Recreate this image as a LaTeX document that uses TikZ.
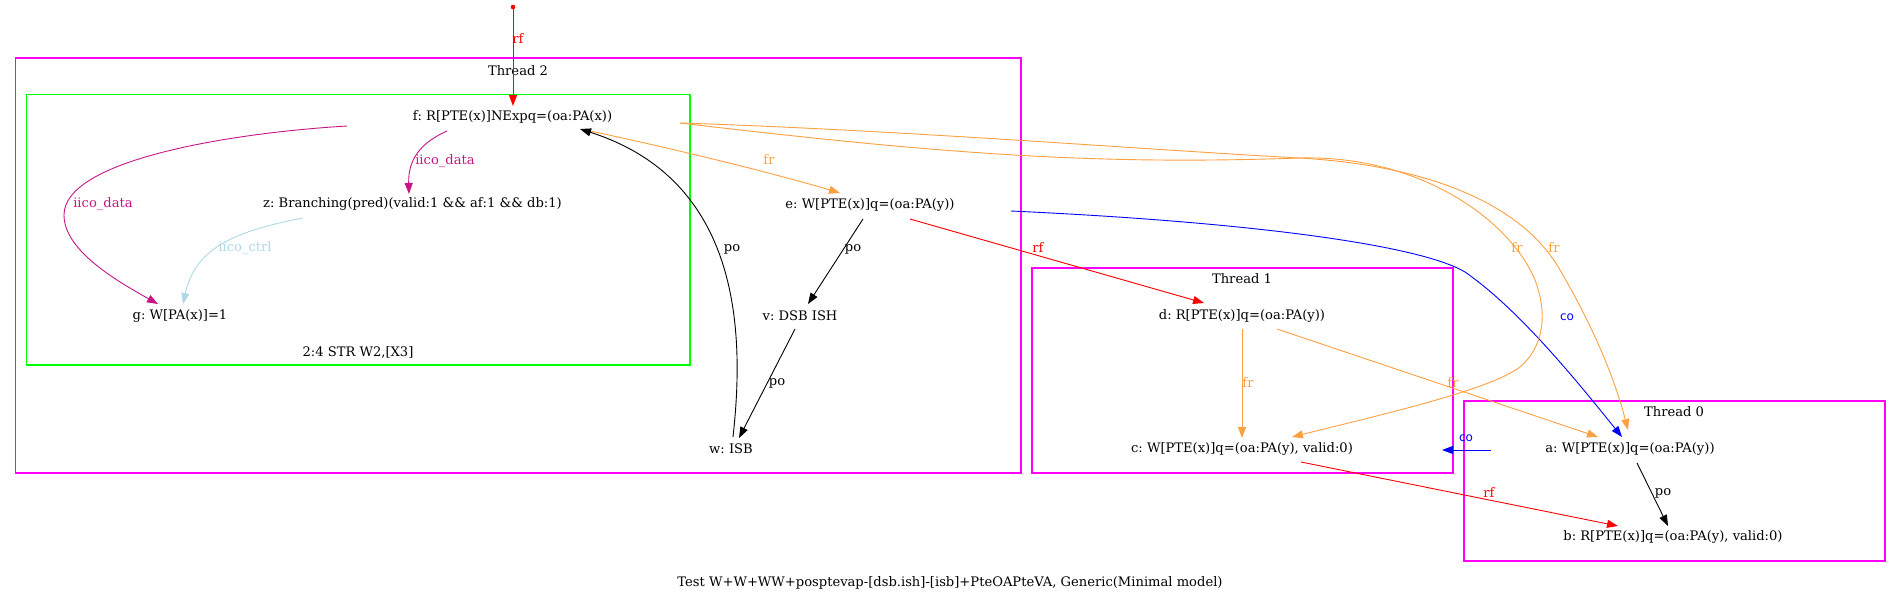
\documentclass[tikz,border=0pt]{standalone}
\usepackage{fontspec}
\setmainfont{DejaVu Serif}
\newfontfamily\labsans{DejaVu Sans}
\usetikzlibrary{arrows.meta,calc}
\definecolor{frc}{HTML}{FFA040}
\definecolor{idata}{HTML}{C71585}
\definecolor{ictrl}{HTML}{ADD8E6}
\definecolor{thr}{HTML}{FF00FF}
\definecolor{grn}{HTML}{00FF00}
\newcommand{\evfont}{\fontsize{13.1}{15}\selectfont}
\frenchspacing
\begin{document}
\begin{tikzpicture}[x=1pt,y=-1pt,
  ev/.style={font=\evfont, inner sep=0pt},
  lab/.style={font=\evfont, inner sep=0pt},
  colab/.style={font=\labsans\fontsize{12}{14}\selectfont, inner sep=0pt, text=blue},
  edge/.style={line width=0.9pt, -{Triangle[length=11pt,width=8pt]}},
  thrbox/.style={draw=thr, line width=1.1pt},
  grnbox/.style={draw=grn, line width=1.1pt}]
\useasboundingbox (0,0) rectangle (1901,603);
% clusters
\draw[thrbox] (15.7,58) rectangle (1021,473);
\draw[grnbox] (26.3,94.7) rectangle (690,365);
\draw[thrbox] (1032,268) rectangle (1453,473);
\draw[thrbox] (1464,401) rectangle (1885,561);
\node[ev] (t2) at (518,71) {Thread 2};
\node[ev] (gl) at (358,352) {2:4 STR W2,[X3]};
\node[ev] (t1) at (1242,279) {Thread 1};
\node[ev] (t0) at (1674,412) {Thread 0};
% events
\node[ev] (f) at (512.5,117) {f: R[PTE(x)]NExpq=(oa:PA(x))};
\node[ev] (z) at (412.5,204) {z: Branching(pred)(valid:1 \&\& af:1 \&\& db:1)};
\node[ev] (g) at (180,316) {g: W[PA(x)]=1};
\node[ev] (e) at (870,205) {e: W[PTE(x)]q=(oa:PA(y))};
\node[ev] (v) at (800,316) {v: DSB ISH};
\node[ev] (w) at (731,449) {w: ISB};
\node[ev] (d) at (1242,316) {d: R[PTE(x)]q=(oa:PA(y))};
\node[ev] (c) at (1242,449) {c: W[PTE(x)]q=(oa:PA(y), valid:0)};
\node[ev] (a) at (1630,449) {a: W[PTE(x)]q=(oa:PA(y))};
\node[ev] (b) at (1673,537) {b: R[PTE(x)]q=(oa:PA(y), valid:0)};
\node[ev] (cap) at (950,583) {Test W+W+WW+posptevap-[dsb.ish]-[isb]+PteOAPteVA, Generic(Minimal model)};
% initial write
\coordinate (init) at (513,7);
\fill[red] (init) circle (2.3);
\draw[edge, red] (init) -- ($(f)+(0.5,-11)$);
\node[lab, text=red] (lrf0) at (518,39) {rf};
% thread 2 internal
\draw[edge, idata] ($(f)+(-165.5,9)$) .. controls (230,133) and (64,160) .. (64,215)
   .. controls (64,250) and (115,280) .. ($(g)+(-22,-12)$);
\node[lab, text=idata] (l1) at (103,204) {iico\_data};
\draw[edge, idata] ($(f)+(-65.5,14)$) .. controls (420,143) and (408,160) .. ($(z)+(-3.5,-10)$);
\node[lab, text=idata] (l2) at (445,161) {iico\_data};
\draw[edge, ictrl] ($(z)+(-109.5,14)$) .. controls (230,232) and (195,250) .. ($(g)+(3,-12)$);
\node[lab, text=ictrl] (l3) at (245,248) {iico\_ctrl};
\draw[edge, frc] ($(f)+(77.5,14)$) .. controls (680,150) and (780,175) .. ($(e)+(-30,-12)$);
\node[lab, text=frc] (l4) at (769,160) {fr};
\draw[edge] ($(e)+(-7,14)$) -- ($(v)+(8,-12)$);
\node[lab] (l5) at (853,249) {po};
\draw[edge] ($(v)+(-5,13)$) -- ($(w)+(8,-11)$);
\node[lab] (l6) at (777,383) {po};
\draw[edge] ($(w)+(2,-12)$) .. controls (745,330) and (740,180) .. ($(f)+(67.5,12)$);
\node[lab] (l7) at (732,249) {po};
% cross-thread
\draw[edge, red] ($(e)+(40,14)$) -- ($(d)+(-38,-13)$);
\node[lab, text=red] (l8) at (1038,248) {rf};
\draw[edge, blue] ($(e)+(141,6)$) .. controls (1250,222) and (1420,245) .. (1465,272)
   .. controls (1520,310) and (1580,385) .. ($(a)+(-8,-12)$);
\node[colab] (l9) at (1567,317) {co};
\draw[edge, frc] ($(f)+(167.5,6)$) .. controls (900,130) and (1150,150) .. (1300,158)
   .. controls (1420,165) and (1520,200) .. (1560,270)
   .. controls (1595,330) and (1615,380) .. ($(a)+(-2,-19)$);
\node[lab, text=frc] (l10) at (1554,248) {fr};
\draw[edge, frc] ($(f)+(167.5,6)$) .. controls (950,155) and (1100,165) .. (1300,158)
   .. controls (1420,155) and (1510,220) .. (1535,280)
   .. controls (1550,320) and (1540,350) .. (1520,367)
   .. controls (1490,390) and (1380,415) .. ($(c)+(50,-12)$);
\node[lab, text=frc] (l11) at (1517,248) {fr};
\draw[edge, frc] ($(d)+(0,13)$) -- ($(c)+(0,-11)$);
\node[lab, text=frc] (l12) at (1248,383) {fr};
\draw[edge, frc] ($(d)+(35,13)$) -- ($(a)+(-32,-12)$);
\node[lab, text=frc] (l13) at (1453,383) {fr};
\draw[edge, blue] ($(a)+(-139,1)$) -- ($(c)+(200,1)$);
\node[colab] (l14) at (1466,438) {co};
\draw[edge, red] ($(c)+(59,13)$) -- ($(b)+(-55,-11)$);
\node[lab, text=red] (l15) at (1489,493) {rf};
\draw[edge] ($(a)+(7,14)$) -- ($(b)+(-5,-11)$);
\node[lab] (l16) at (1663,493) {po};
\end{tikzpicture}
\end{document}
